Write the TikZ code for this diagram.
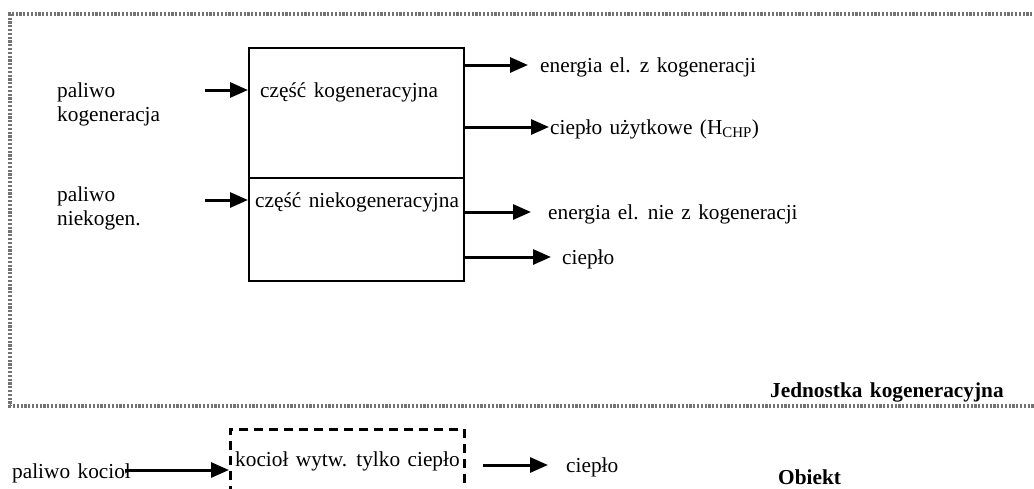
\documentclass[tikz,border=0pt]{standalone}
\usepackage{fontspec}
\setmainfont[WordSpace={1.4,0,0}]{Liberation Serif}
\usetikzlibrary{arrows.meta}
\begin{document}
\begin{tikzpicture}[x=1pt,y=-1pt,
  lbl/.style={inner sep=0pt,anchor=base west,font=\fontsize{21.3}{25}\selectfont},
  blbl/.style={lbl,font=\fontsize{21.3}{25}\selectfont\bfseries},
  arr/.style={line width=3pt,-{Triangle[length=18pt,width=15pt]}},
  part/.style={draw,line width=1.8pt,minimum width=215pt,inner sep=0pt},
  border/.style={draw=black!55,line width=3.2pt,dash pattern=on 2.2pt off 1.6pt},
  dbox/.style={draw,line width=2.8pt,dash pattern=on 9pt off 6pt}]
\useasboundingbox (0,0) rectangle (1034,488);
\clip (0,0) rectangle (1034,488);
% outer frame
\draw[border] (1040,14) -- (10,14) -- (10,406) -- (1040,406);
% main block
\node[part,minimum height=130pt,anchor=north west] (kog) at (248,47) {};
\node[part,minimum height=103pt,anchor=north west] (niekog) at (248,177) {};
\node[lbl] (tkog) at (260,97) {część kogeneracyjna};
\node[lbl] (tniekog) at (255,207) {część niekogeneracyjna};
% inputs
\node[lbl,align=left,anchor=north west] (p1) at (57,83) {paliwo\\[-1pt]kogeneracja};
\node[lbl,align=left,anchor=north west] (p2) at (57,187) {paliwo\\[-1pt]niekogen.};
\coordinate (in1) at (205,90);
\coordinate (in2) at (205,200);
\draw[arr] (in1) -- (in1 -| kog.west);
\draw[arr] (in2) -- (in2 -| niekog.west);
% outputs
\node[lbl] (o1) at (540,72) {energia el. z kogeneracji};
\node[lbl] (o2) at (550,134) {ciepło użytkowe (H\textsubscript{CHP})};
\node[lbl] (o3) at (548,219) {energia el. nie z kogeneracji};
\node[lbl] (o4) at (562,264) {ciepło};
\coordinate (e1) at (528,65);
\coordinate (e2) at (549,127);
\coordinate (e3) at (531,212);
\coordinate (e4) at (551,257);
\draw[arr] (e1 -| kog.east) -- (e1);
\draw[arr] (e2 -| kog.east) -- (e2);
\draw[arr] (e3 -| niekog.east) -- (e3);
\draw[arr] (e4 -| niekog.east) -- (e4);
\node[blbl] (jk) at (770,397) {Jednostka kogeneracyjna};
% boiler
\node[dbox,minimum width=234pt,minimum height=120pt,anchor=north west,inner sep=0pt] (kot) at (229,428) {};
\node[lbl] (tkot) at (235,466) {kocioł wytw. tylko ciepło};
\node[lbl] (pk) at (12,478) {paliwo kocioł};
\coordinate (ink) at (125,470);
\draw[arr] (ink) -- (ink -| kot.west);
\coordinate (ek) at (548,465);
\draw[arr] (483,465) -- (ek);
\node[lbl] (ck) at (566,472) {ciepło};
\node[blbl] (ob) at (778,484) {Obiekt};
\end{tikzpicture}
\end{document}
